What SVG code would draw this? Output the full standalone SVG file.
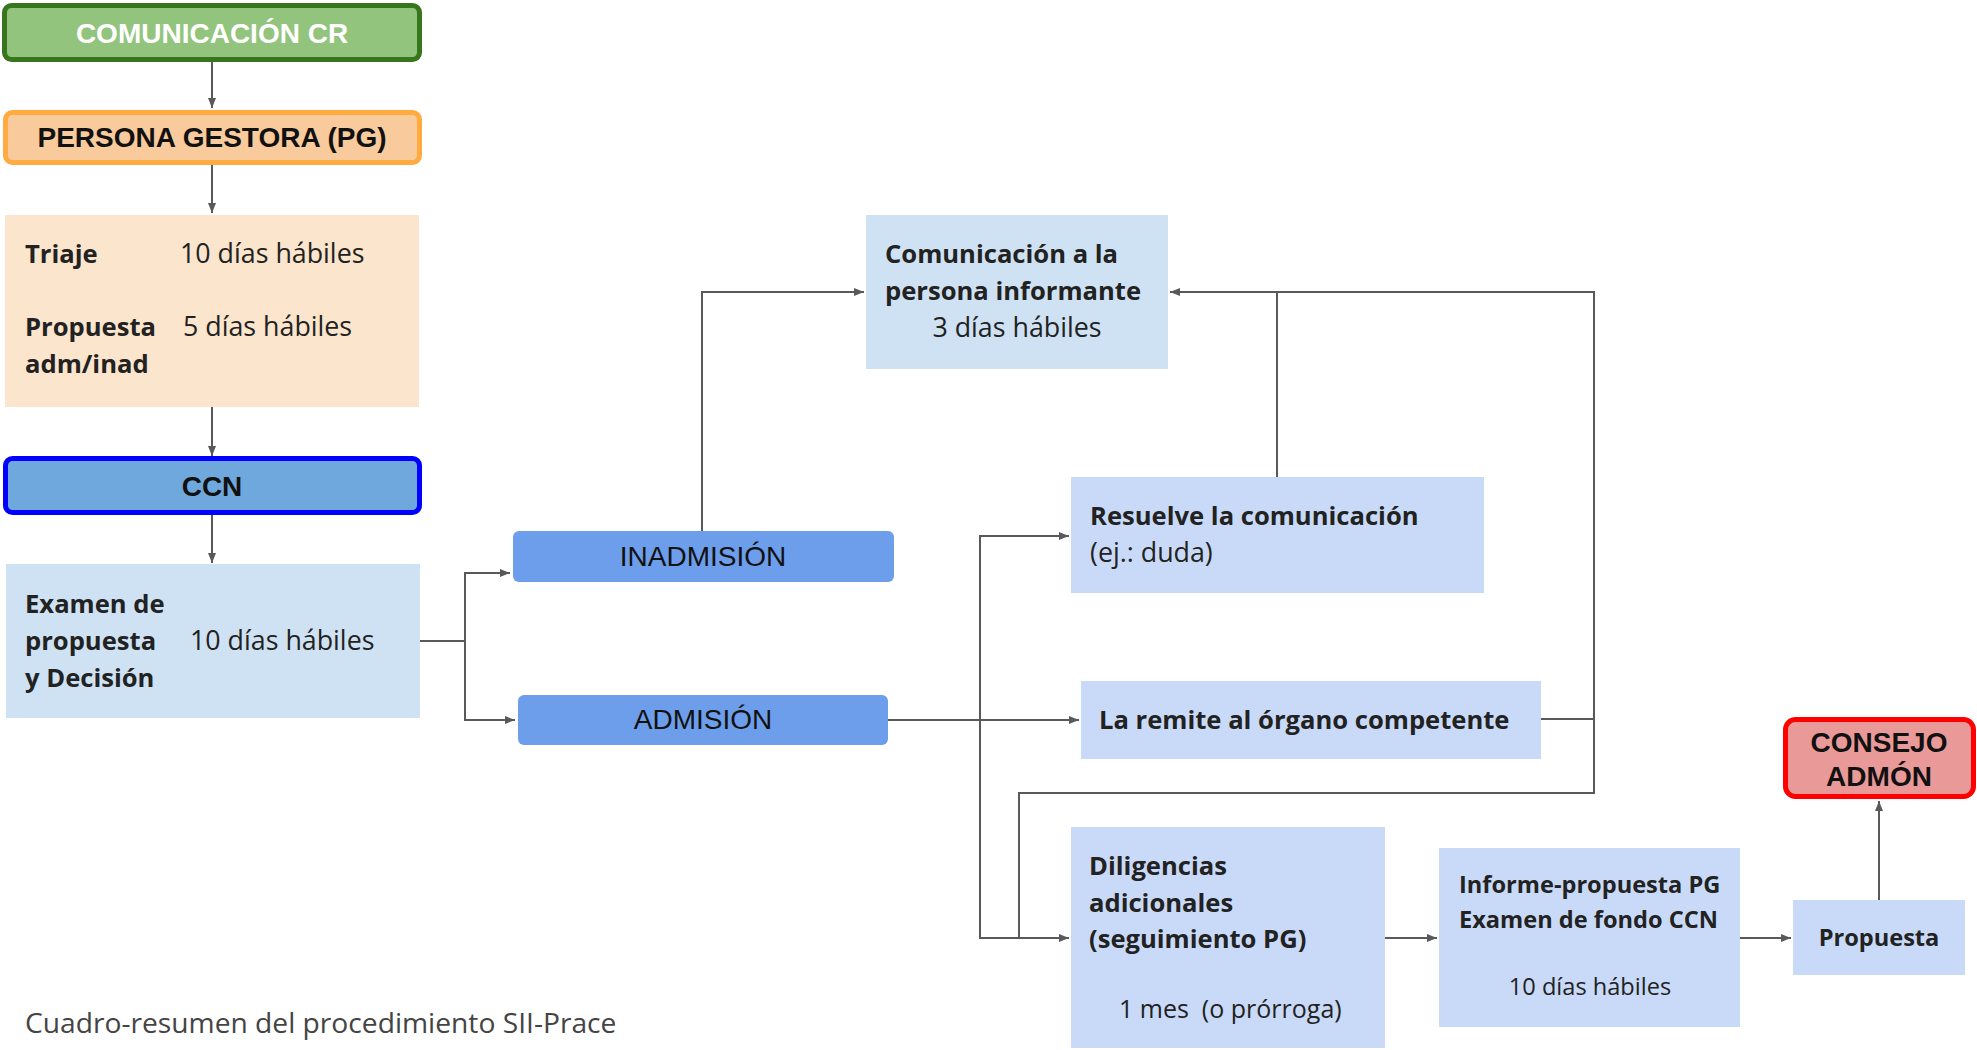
<svg xmlns="http://www.w3.org/2000/svg" width="1977" height="1050" viewBox="0 0 1977 1050">
<style>
.ar{font-family:"Liberation Sans",Arial,sans-serif;font-size:28px;fill:#111}
.b{font-weight:bold}
.os{font-family:"Open Sans","DejaVu Sans",sans-serif;font-size:26.8px;fill:#222}
.os.b{font-size:25.6px}
.sm{font-size:23.6px !important}
.cap{font-family:"Open Sans","DejaVu Sans",sans-serif;font-size:28.2px;fill:#444}
.mid{text-anchor:middle}
.con{fill:none;stroke:#595959;stroke-width:2}
</style>
<defs>
<marker id="ah" viewBox="0 0 10 10" refX="10" refY="5" markerWidth="10" markerHeight="10" markerUnits="userSpaceOnUse" orient="auto">
<path d="M0,1 L10,5 L0,9 z" fill="#595959"/>
</marker>
</defs>
<rect width="1977" height="1050" fill="#ffffff"/>
<g id="connectors">
<path class="con" d="M212 60 V108" marker-end="url(#ah)"/>
<path class="con" d="M212 165 V213" marker-end="url(#ah)"/>
<path class="con" d="M212 407 V456" marker-end="url(#ah)"/>
<path class="con" d="M212 515 V563" marker-end="url(#ah)"/>
<path class="con" d="M420 641 H465 V573 H510" marker-end="url(#ah)"/>
<path class="con" d="M465 641 V720 H515" marker-end="url(#ah)"/>
<path class="con" d="M702 531 V292 H864" marker-end="url(#ah)"/>
<path class="con" d="M1541 719 H1594 V292 H1170" marker-end="url(#ah)"/>
<path class="con" d="M1277 477 V292"/>
<path class="con" d="M1594 719 V793 H1019 V938"/>
<path class="con" d="M888 720 H1079" marker-end="url(#ah)"/>
<path class="con" d="M980 720 V536 H1069" marker-end="url(#ah)"/>
<path class="con" d="M980 720 V938 H1069" marker-end="url(#ah)"/>
<path class="con" d="M1385 938 H1437" marker-end="url(#ah)"/>
<path class="con" d="M1740 938 H1791" marker-end="url(#ah)"/>
<path class="con" d="M1879 900 V801" marker-end="url(#ah)"/>
</g>
<g id="comunicacion-cr">
<rect x="4.5" y="5.5" width="415" height="54" rx="7" fill="#93c47d" stroke="#38761d" stroke-width="5"/>
<text class="ar b mid" x="212" y="43" style="fill:#ffffff">COMUNICACIÓN CR</text>
</g>
<g id="persona-gestora">
<rect x="5.5" y="112.5" width="414" height="50" rx="7" fill="#f9cb9c" stroke="#ffab40" stroke-width="5"/>
<text class="ar b mid" x="212" y="147">PERSONA GESTORA (PG)</text>
</g>
<g id="triaje">
<rect x="5" y="215" width="414" height="192" fill="#fce5cd"/>
<text class="os b" x="25" y="263">Triaje</text>
<text class="os" x="180" y="263">10 días hábiles</text>
<text class="os b" x="25" y="336">Propuesta</text>
<text class="os" x="183" y="336">5 días hábiles</text>
<text class="os b" x="25" y="373">adm/inad</text>
</g>
<g id="ccn">
<rect x="5.5" y="458.5" width="414" height="54" rx="7" fill="#6fa8dc" stroke="#0000ff" stroke-width="5"/>
<text class="ar b mid" x="212" y="496">CCN</text>
</g>
<g id="examen">
<rect x="6" y="564" width="414" height="154" fill="#cfe2f3"/>
<text class="os b" x="25" y="613">Examen de</text>
<text class="os b" x="25" y="650">propuesta</text>
<text class="os b" x="25" y="687">y Decisión</text>
<text class="os" x="190" y="650">10 días hábiles</text>
</g>
<g id="inadmision">
<rect x="513" y="531" width="381" height="51" rx="6" fill="#6d9eeb"/>
<text class="ar mid" x="703" y="566">INADMISIÓN</text>
</g>
<g id="admision">
<rect x="518" y="695" width="370" height="50" rx="6" fill="#6d9eeb"/>
<text class="ar mid" x="703" y="729">ADMISIÓN</text>
</g>
<g id="comunicacion-informante">
<rect x="866" y="215" width="302" height="154" fill="#cfe2f3"/>
<text class="os b" x="885" y="263">Comunicación a la</text>
<text class="os b" x="885" y="300">persona informante</text>
<text class="os mid" x="1017" y="337">3 días hábiles</text>
</g>
<g id="resuelve">
<rect x="1071" y="477" width="413" height="116" fill="#c9daf8"/>
<text class="os b" x="1090" y="525">Resuelve la comunicación</text>
<text class="os" x="1090" y="562">(ej.: duda)</text>
</g>
<g id="remite">
<rect x="1081" y="681" width="460" height="78" fill="#c9daf8"/>
<text class="os b" x="1099" y="729">La remite al órgano competente</text>
</g>
<g id="diligencias">
<rect x="1071" y="827" width="314" height="221" fill="#c9daf8"/>
<text class="os b" x="1089" y="875">Diligencias</text>
<text class="os b" x="1089" y="912">adicionales</text>
<text class="os b" x="1089" y="948">(seguimiento PG)</text>
<text class="os" x="1119" y="1018" style="font-size:25px" xml:space="preserve">1 mes  (o prórroga)</text>
</g>
<g id="informe">
<rect x="1439" y="848" width="301" height="179" fill="#c9daf8"/>
<text class="os b sm" x="1459" y="893">Informe-propuesta PG</text>
<text class="os b sm" x="1459" y="928">Examen de fondo CCN</text>
<text class="os sm mid" x="1590" y="995">10 días hábiles</text>
</g>
<g id="propuesta">
<rect x="1793" y="900" width="172" height="75" fill="#c9daf8"/>
<text class="os b sm mid" x="1879" y="946">Propuesta</text>
</g>
<g id="consejo">
<rect x="1785.5" y="719.5" width="188" height="77" rx="10" fill="#ea9999" stroke="#ff0000" stroke-width="5"/>
<text class="ar b mid" x="1879" y="752">CONSEJO</text>
<text class="ar b mid" x="1879" y="786">ADMÓN</text>
</g>
<g id="caption">
<text class="cap" x="25" y="1033">Cuadro-resumen del procedimiento SII-Prace</text>
</g>
</svg>
